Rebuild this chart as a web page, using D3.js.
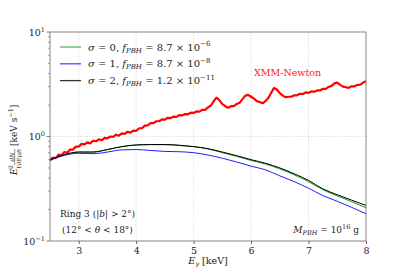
<!DOCTYPE html>
<html>
<head>
<meta charset="utf-8">
<script src="https://cdn.jsdelivr.net/npm/d3@7"></script>
<style>
  body { margin: 0; background: #fff; }
  text { font-family: "DejaVu Serif", "Liberation Serif", serif; }
</style>
</head>
<body>
<svg id="chart" width="407" height="271"></svg>
<script>
// data

let xmmEnergy = [2.50, 2.55, 2.60, 2.65, 2.70, 2.75, 2.80, 2.85, 2.90, 2.95,
    3.00, 3.05, 3.10, 3.15, 3.20, 3.25, 3.30, 3.35, 3.40, 3.45,
    3.50, 3.55, 3.60, 3.65, 3.70, 3.75, 3.80, 3.85, 3.90, 3.95,
    4.00, 4.05, 4.10, 4.15, 4.20, 4.25, 4.30, 4.35, 4.40, 4.45,
    4.50, 4.55, 4.60, 4.65, 4.70, 4.75, 4.80, 4.85, 4.90, 4.95,
    5.00, 5.05, 5.10, 5.15, 5.20, 5.25, 5.30, 5.35, 5.40, 5.45,
    5.50, 5.55, 5.60, 5.65, 5.70, 5.75, 5.80, 5.85, 5.90, 5.95,
    6.00, 6.05, 6.10, 6.15, 6.20, 6.25, 6.30, 6.35, 6.40, 6.45,
    6.50, 6.55, 6.60, 6.65, 6.70, 6.75, 6.80, 6.85, 6.90, 6.95,
    7.00, 7.05, 7.10, 7.15, 7.20, 7.25, 7.30, 7.35, 7.40, 7.45,
    7.50, 7.55, 7.60, 7.65, 7.70, 7.75, 7.80, 7.85, 7.90, 7.95, 8.00];
let xmmFlux = [0.59, 0.63, 0.62, 0.67, 0.66, 0.71, 0.70, 0.75, 0.75, 0.80,
    0.80, 0.85, 0.84, 0.88, 0.86, 0.91, 0.90, 0.94, 0.92, 0.97,
    0.96, 1.00, 0.99, 1.04, 1.02, 1.07, 1.06, 1.11, 1.09, 1.14,
    1.13, 1.20, 1.20, 1.27, 1.28, 1.34, 1.34, 1.40, 1.40, 1.46,
    1.45, 1.51, 1.50, 1.55, 1.54, 1.60, 1.59, 1.64, 1.63, 1.69,
    1.68, 1.74, 1.73, 1.80, 1.80, 1.90, 1.98, 2.18, 2.36, 2.22,
    2.04, 1.95, 1.88, 1.95, 1.95, 2.05, 2.10, 2.28, 2.46, 2.50,
    2.40, 2.30, 2.18, 2.14, 2.08, 2.18, 2.34, 2.62, 2.92, 2.80,
    2.60, 2.46, 2.38, 2.40, 2.40, 2.48, 2.48, 2.56, 2.55, 2.64,
    2.62, 2.70, 2.68, 2.76, 2.76, 2.86, 2.86, 2.98, 3.05, 3.22,
    3.28, 3.12, 3.00, 2.96, 2.92, 3.02, 3.02, 3.12, 3.14, 3.28, 3.38];

let modelEnergy = [2.5, 2.75, 3.0, 3.25, 3.5, 3.75, 4.0, 4.25, 4.5, 4.75, 5.0, 5.25,
    5.5, 5.75, 6.0, 6.25, 6.5, 6.75, 7.0, 7.25, 7.5, 7.75, 8.0];
let sigma0 = [0.60, 0.67, 0.71, 0.71, 0.75, 0.80, 0.83, 0.835, 0.835, 0.82, 0.80, 0.76,
    0.70, 0.645, 0.59, 0.545, 0.49, 0.43, 0.37, 0.31, 0.27, 0.238, 0.208];
let sigma1 = [0.59, 0.66, 0.69, 0.685, 0.71, 0.745, 0.75, 0.735, 0.72, 0.715, 0.70, 0.665,
    0.62, 0.57, 0.52, 0.48, 0.42, 0.37, 0.32, 0.272, 0.24, 0.21, 0.182];
let sigma2 = [0.60, 0.67, 0.71, 0.71, 0.75, 0.80, 0.83, 0.838, 0.838, 0.825, 0.80, 0.765,
    0.71, 0.655, 0.60, 0.555, 0.50, 0.44, 0.38, 0.315, 0.277, 0.246, 0.219];

let xTicks = [3, 4, 5, 6, 7, 8];
let yDecades = [-1, 0, 1];

let series = [
    {name: "σ = 0", sub: "PBH", val: "8.7 × 10", exp: "−6", color: "#1a9a1a", data: sigma0},
    {name: "σ = 1", sub: "PBH", val: "8.7 × 10", exp: "−8", color: "#1f1fff", data: sigma1},
    {name: "σ = 2", sub: "PBH", val: "1.2 × 10", exp: "−11", color: "#000000", data: sigma2}
];

let margin = {left: 50, top: 32, right: 41, bottom: 30};
let width = 407 - margin.left - margin.right;
let height = 271 - margin.top - margin.bottom;

let svg = d3.select("#chart");
let g = svg.append("g").attr("transform", "translate(" + margin.left + "," + margin.top + ")");

let x = d3.scaleLinear().domain([2.5, 8]).range([0, width]);
let y = d3.scaleLog().domain([0.1, 10]).range([height, 0]);

// grid
g.selectAll(".gx")
    .data([3, 4, 5, 6, 7])
    .enter()
    .append("line")
    .attr("x1", function (d) { return x(d); })
    .attr("x2", function (d) { return x(d); })
    .attr("y1", 0)
    .attr("y2", height)
    .attr("stroke", "#d0d0d0")
    .attr("stroke-width", 0.7)
    .attr("stroke-dasharray", "1.5,1.5");
g.append("line")
    .attr("x1", 0).attr("x2", width)
    .attr("y1", y(1)).attr("y2", y(1))
    .attr("stroke", "#d0d0d0")
    .attr("stroke-width", 0.7)
    .attr("stroke-dasharray", "1.5,1.5");

svg.append("clipPath").attr("id", "clip")
    .append("rect").attr("width", width).attr("height", height);

let plot = g.append("g").attr("clip-path", "url(#clip)");

// XMM data
let xmmLine = d3.line()
    .x(function (d, i) { return x(xmmEnergy[i]); })
    .y(function (d) { return y(d); });
plot.append("path")
    .datum(xmmFlux)
    .attr("d", xmmLine)
    .attr("fill", "none")
    .attr("stroke", "#ff0000")
    .attr("stroke-width", 2.2)
    .attr("stroke-linejoin", "bevel");

// models
let modelLine = d3.line()
    .curve(d3.curveMonotoneX)
    .x(function (d, i) { return x(modelEnergy[i]); })
    .y(function (d) { return y(d); });
series.forEach(function (s) {
    plot.append("path")
        .datum(s.data)
        .attr("d", modelLine)
        .attr("fill", "none")
        .attr("stroke", s.color)
        .attr("stroke-width", 1);
});

// frame
g.append("rect")
    .attr("width", width).attr("height", height)
    .attr("fill", "none")
    .attr("stroke", "#666")
    .attr("stroke-width", 0.8);

// x axis
let xAxis = g.append("g").attr("transform", "translate(0," + height + ")")
    .call(d3.axisBottom(x).tickValues(xTicks).tickSize(3).tickFormat(d3.format("d")));
xAxis.select(".domain").remove();
xAxis.selectAll("line").attr("stroke", "#666");
xAxis.selectAll("text")
    .attr("font-family", "DejaVu Serif, serif")
    .attr("font-size", 9.5)
    .attr("fill", "#222")
    .attr("dy", "0.75em");

// y axis
let minor = [];
for (let e = -1; e < 1; e++) {
    for (let m = 2; m <= 9; m++) minor.push(m * Math.pow(10, e));
}
g.selectAll(".ymin")
    .data(minor)
    .enter()
    .append("line")
    .attr("x1", -2).attr("x2", 0)
    .attr("y1", function (d) { return y(d); })
    .attr("y2", function (d) { return y(d); })
    .attr("stroke", "#666")
    .attr("stroke-width", 0.6);
g.selectAll(".ymaj")
    .data(yDecades)
    .enter()
    .append("line")
    .attr("x1", -3.5).attr("x2", 0)
    .attr("y1", function (d) { return y(Math.pow(10, d)); })
    .attr("y2", function (d) { return y(Math.pow(10, d)); })
    .attr("stroke", "#666")
    .attr("stroke-width", 0.8);
let yl = g.selectAll(".ylab")
    .data(yDecades)
    .enter()
    .append("text")
    .attr("x", -5)
    .attr("y", function (d) { return y(Math.pow(10, d)) + 3.5; })
    .attr("text-anchor", "end")
    .attr("font-size", 9.5)
    .attr("fill", "#222");
yl.append("tspan").text("10");
yl.append("tspan").attr("dy", -4).attr("font-size", 6.5)
    .text(function (d) { return d < 0 ? "−" + (-d) : d; });

// legend
let leg = g.append("g").attr("transform", "translate(10,15)");
series.forEach(function (s, i) {
    let row = leg.append("g").attr("transform", "translate(0," + (i * 16.8) + ")");
    row.append("line")
        .attr("x1", 0).attr("x2", 21)
        .attr("stroke", s.color)
        .attr("stroke-width", 1.3)
        .attr("opacity", i === 0 ? 0.7 : 0.8);
    let t = row.append("text").attr("x", 28).attr("y", 3.5).attr("font-size", 10).attr("fill", "#222");
    t.append("tspan").attr("font-style", "italic").text("σ");
    t.append("tspan").text(s.name.slice(1) + ", ");
    t.append("tspan").attr("font-style", "italic").text("f");
    t.append("tspan").attr("font-style", "italic").attr("font-size", 7).attr("dy", 2).text(s.sub);
    t.append("tspan").attr("dy", -2).text(" = " + s.val);
    t.append("tspan").attr("dy", -4.5).attr("font-size", 7).text(s.exp);
});

// annotations
g.append("text")
    .attr("x", x(6.05)).attr("y", 44)
    .attr("font-size", 9.5)
    .attr("fill", "#ff2020")
    .text("XMM-Newton");

let r1 = g.append("text").attr("x", 10).attr("y", 185).attr("font-size", 9).attr("fill", "#222");
r1.append("tspan").text("Ring 3 (|");
r1.append("tspan").attr("font-style", "italic").text("b");
r1.append("tspan").text("| > 2°)");
let r2 = g.append("text").attr("x", 12).attr("y", 201).attr("font-size", 9).attr("fill", "#222");
r2.append("tspan").text("(12° < ");
r2.append("tspan").attr("font-style", "italic").text("θ");
r2.append("tspan").text(" < 18°)");

let mp = g.append("text").attr("x", width - 7).attr("y", 201)
    .attr("text-anchor", "end").attr("font-size", 9).attr("fill", "#222");
mp.append("tspan").attr("font-style", "italic").text("M");
mp.append("tspan").attr("font-style", "italic").attr("font-size", 6.5).attr("dy", 2).text("PBH");
mp.append("tspan").attr("dy", -2).text(" = 10");
mp.append("tspan").attr("dy", -4).attr("font-size", 6.5).text("16");
mp.append("tspan").attr("dy", 4).text(" g");

// x label
let xlab = svg.append("text").attr("x", margin.left + width / 2).attr("y", 264)
    .attr("text-anchor", "middle").attr("font-size", 9.5).attr("fill", "#222");
xlab.append("tspan").attr("font-style", "italic").text("E");
xlab.append("tspan").attr("font-style", "italic").attr("font-size", 6.5).attr("dy", 2).text("γ");
xlab.append("tspan").attr("dy", -2).text(" [keV]");

// y label
let ylab = svg.append("g").attr("transform", "translate(17,136) rotate(-90)");
ylab.append("text").attr("x", -39).attr("y", 0).attr("font-size", 9)
    .attr("font-style", "italic").attr("fill", "#222").text("E");
ylab.append("text").attr("x", -33).attr("y", -4).attr("font-size", 6).attr("fill", "#222").text("2");
ylab.append("text").attr("x", -33).attr("y", 3).attr("font-size", 6)
    .attr("font-style", "italic").attr("fill", "#222").text("γ");
ylab.append("text").attr("x", -21).attr("y", -3.5).attr("font-size", 6)
    .attr("text-anchor", "middle").attr("font-style", "italic").attr("fill", "#222").text("dN");
ylab.append("line").attr("x1", -29).attr("x2", -13).attr("y1", -2.3).attr("y2", -2.3)
    .attr("stroke", "#222").attr("stroke-width", 0.5);
ylab.append("text").attr("x", -21).attr("y", 3.5).attr("font-size", 5.5)
    .attr("text-anchor", "middle").attr("font-style", "italic").attr("fill", "#222").text("dEγdt");
let yu = ylab.append("text").attr("x", -10).attr("y", 0).attr("font-size", 9).attr("fill", "#222");
yu.append("tspan").text("[keV s");
yu.append("tspan").attr("dy", -4).attr("font-size", 6.5).text("−1");
yu.append("tspan").attr("dy", 4).text("]");
</script>
</body>
</html>
